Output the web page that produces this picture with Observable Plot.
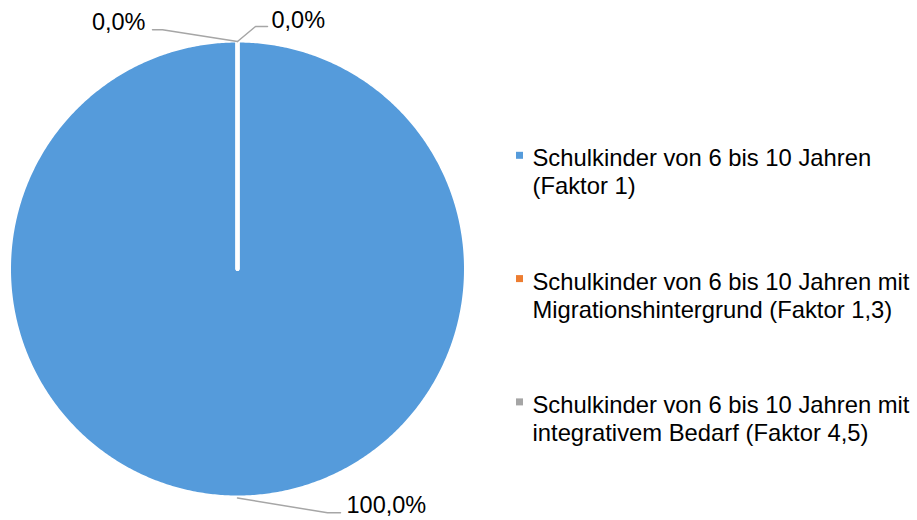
<!DOCTYPE html>
<html><head><meta charset="utf-8">
<script src="https://cdn.jsdelivr.net/npm/d3@7"></script>
<script src="https://cdn.jsdelivr.net/npm/@observablehq/plot@0.6"></script>
<style>html,body{margin:0;padding:0;background:#fff;}</style>
</head><body><div id="chart"></div>
<script>
// ---- data ----
const categories = [
  "Schulkinder von 6 bis 10 Jahren (Faktor 1)",
  "Schulkinder von 6 bis 10 Jahren mit Migrationshintergrund (Faktor 1,3)",
  "Schulkinder von 6 bis 10 Jahren mit integrativem Bedarf (Faktor 4,5)"
];
const legendLabels = [
  "Schulkinder von 6 bis 10 Jahren\n(Faktor 1)",
  "Schulkinder von 6 bis 10 Jahren mit\nMigrationshintergrund (Faktor 1,3)",
  "Schulkinder von 6 bis 10 Jahren mit\nintegrativem Bedarf (Faktor 4,5)"
];
const shares = [100, 0, 0];
const colors = ["#559BDB", "#ED7D31", "#A5A5A5"];

// ---- layout ----
const W = 917, H = 520;
const cx = 237, cy = 268.5, Rvis = 226.5, border = 4, R = Rvis + border / 2;
const fontSize = 23.5, legendFontSize = 23.8;
const labelLayout = [
  {leader: [[0, 2.5], [90, 17.3], [103, 17.3]], text: [109, 17.3], anchor: "start"},
  {leader: [[0, -1], [-75, -12.7], [-85, -12.7]], text: [-92, -12.7], anchor: "end"},
  {leader: [[0, -1], [18, -16], [30, -16]], text: [34, -14.7], anchor: "start"}
];
const legendX = 516, legendBox = 7, legendTextX = 532, legendBase0 = 162.8, legendStep = 123.3;

const data = categories.map((c, i) => ({category: c, share: shares[i], color: colors[i], i}));
const total = d3.sum(shares);
const pie = d3.pie().sort(null).value(d => d.share)(data);
const pt = (a, r) => [cx + r * Math.sin(a), cy - r * Math.cos(a)];

const sliceMarks = pie.map(p => {
  const n = Math.max(1, Math.ceil((p.endAngle - p.startAngle) / (Math.PI / 360)));
  const pts = [{x: cx, y: cy}];
  for (let k = 0; k <= n; k++) {
    const [x, y] = pt(p.startAngle + (p.endAngle - p.startAngle) * k / n, R);
    pts.push({x, y});
  }
  pts.push({x: cx, y: cy});
  return Plot.line(pts, {x: "x", y: "y", fill: p.data.color, stroke: "#fff", strokeWidth: border, strokeLinejoin: "round"});
});

const fmt = v => (v / total * 100).toFixed(1).replace(".", ",") + "%";
const leaders = [], labels = [];
pie.forEach((p, i) => {
  const [ex, ey] = pt((p.startAngle + p.endAngle) / 2, Rvis);
  const L = labelLayout[i];
  L.leader.forEach(([dx, dy]) => leaders.push({i, x: ex + dx, y: ey + dy}));
  labels.push({x: ex + L.text[0], y: ey + L.text[1], text: fmt(p.data.share), anchor: L.anchor});
});

const legend = data.map((d, i) => ({...d, label: legendLabels[i], base: legendBase0 + i * legendStep}));

const chart = Plot.plot({
  width: W, height: H, margin: 0,
  x: {type: "linear", domain: [0, W], range: [0, W], axis: null},
  y: {type: "linear", domain: [0, H], range: [0, H], axis: null},
  style: {fontFamily: "'Liberation Sans', Arial, sans-serif", background: "#fff"},
  marks: [
    ...sliceMarks,
    Plot.line(leaders, {x: "x", y: "y", z: "i", stroke: "#A6A6A6", strokeWidth: 1.5}),
    Plot.text(labels.filter(d => d.anchor === "start"), {x: "x", y: "y", text: "text", textAnchor: "start", lineAnchor: "bottom", fontSize, fill: "#000"}),
    Plot.text(labels.filter(d => d.anchor === "end"), {x: "x", y: "y", text: "text", textAnchor: "end", lineAnchor: "bottom", fontSize, fill: "#000"}),
    Plot.rect(legend, {x1: legendX, x2: legendX + legendBox, y1: d => d.base - 11, y2: d => d.base - 11 + legendBox, fill: "color"}),
    Plot.text(legend, {x: legendTextX, y: d => d.base - 0.71 * legendFontSize, text: "label", textAnchor: "start", lineAnchor: "top", lineHeight: 1.18, fontSize: legendFontSize, fill: "#000"})
  ]
});
document.getElementById("chart").appendChild(chart);
</script>
</body></html>
